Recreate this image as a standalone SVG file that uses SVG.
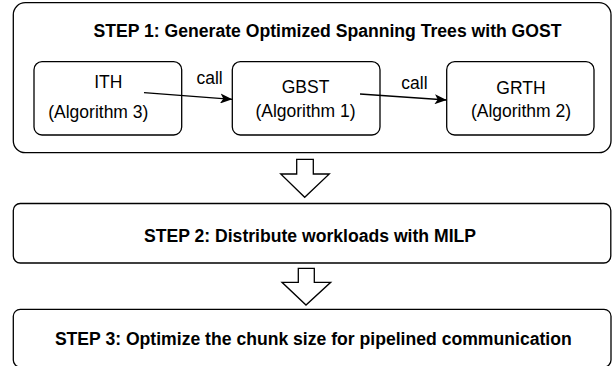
<svg xmlns="http://www.w3.org/2000/svg" width="612" height="366" viewBox="0 0 612 366">
<defs>
<style>
.box{fill:#fff;stroke:#000;stroke-width:1.3}
.t{font-family:"Liberation Sans",Arial,Helvetica,sans-serif;font-size:17.5px;fill:#000;text-anchor:middle}
.b{font-weight:bold;font-size:17.6px}
.edge{fill:none;stroke:#000;stroke-width:1.3}
.big{fill:#fff;stroke:#000;stroke-width:1.3;stroke-linejoin:miter}
</style>
<marker id="arr" viewBox="0 0 12 10" refX="12" refY="5" markerWidth="12" markerHeight="10" markerUnits="userSpaceOnUse" orient="auto">
<path d="M0,0 L12,5 L0,10 L3,5 Z" fill="#000"/>
</marker>
</defs>
<rect width="612" height="366" fill="#fff"/>
<g id="step1">
<rect class="box" x="13.3" y="2.7" width="597.7" height="150" rx="12" ry="12"/>
<text class="t b" x="327.5" y="36.7">STEP 1: Generate Optimized Spanning Trees with GOST</text>
</g>
<g id="ith">
<rect class="box" x="34" y="61.7" width="147.7" height="73.3" rx="8" ry="8"/>
<text class="t" x="108.3" y="88.3">ITH</text>
<text class="t" x="98.3" y="118.3">(Algorithm 3)</text>
</g>
<g id="gbst">
<rect class="box" x="232.3" y="61.7" width="147.7" height="73.3" rx="8" ry="8"/>
<text class="t" x="305.5" y="93.3">GBST</text>
<text class="t" x="305.5" y="117.3">(Algorithm 1)</text>
</g>
<g id="grth">
<rect class="box" x="446.7" y="61.7" width="147.3" height="73.3" rx="8" ry="8"/>
<text class="t" x="521" y="94">GRTH</text>
<text class="t" x="521" y="116.7">(Algorithm 2)</text>
</g>
<g id="step2">
<rect class="box" x="13.3" y="203.5" width="597.5" height="59.5" rx="7" ry="7"/>
<text class="t b" x="310" y="241.7">STEP 2: Distribute workloads with MILP</text>
</g>
<g id="step3">
<rect class="box" x="13.3" y="309.3" width="597.7" height="57.7" rx="7" ry="7"/>
<text class="t b" x="313.3" y="345">STEP 3: Optimize the chunk size for pipelined communication</text>
</g>
<g id="connectors">
<line class="edge" x1="144" y1="92.7" x2="232.3" y2="99.3" marker-end="url(#arr)"/>
<text class="t" x="209.6" y="84.3">call</text>
<line class="edge" x1="360" y1="94" x2="446.7" y2="100" marker-end="url(#arr)"/>
<text class="t" x="414.5" y="89.3">call</text>
<path class="big" d="M296.7,159.3 H313.3 V174 H329.3 L304.7,197.3 L280.7,174 H296.7 Z"/>
<path class="big" d="M298.3,268.3 H314.3 V282.3 H330.7 L306,305 L282,282.3 H298.3 Z"/>
</g>
</svg>
